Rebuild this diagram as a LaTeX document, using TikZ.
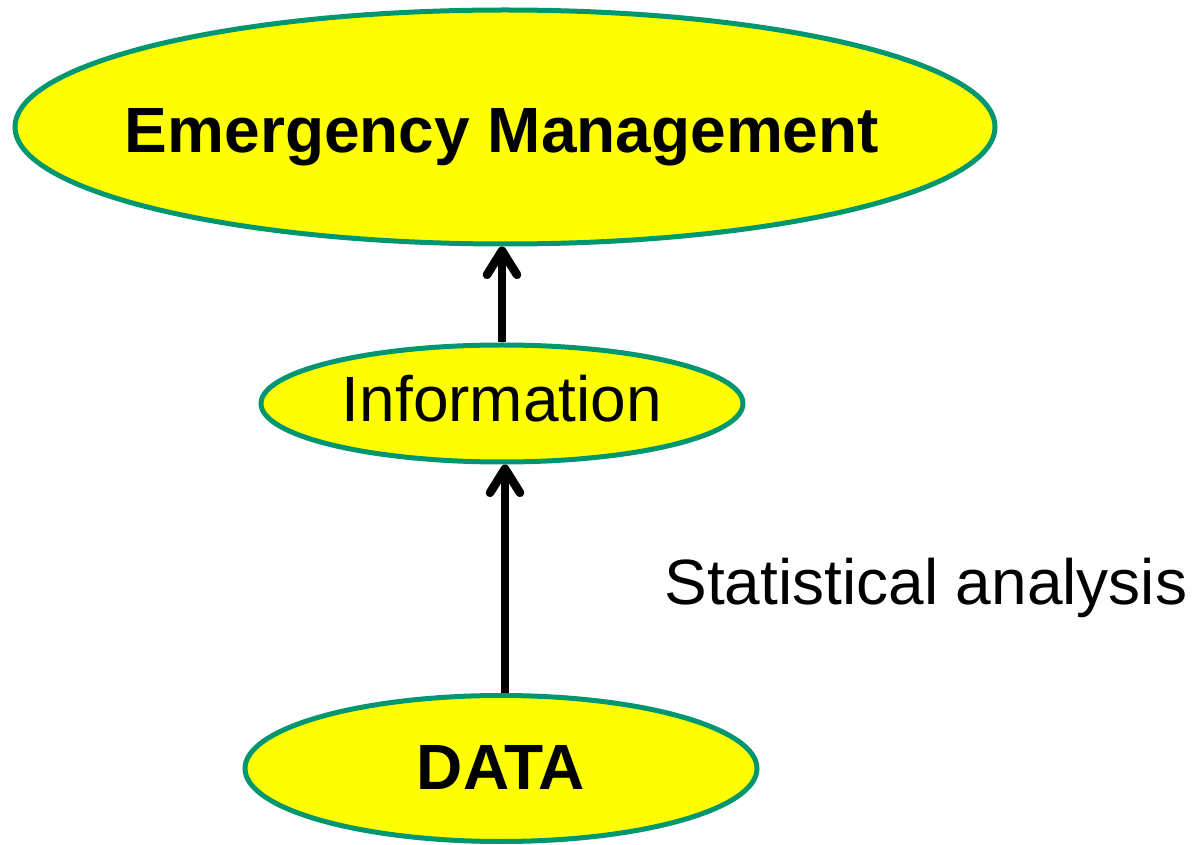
\documentclass[tikz,border=0pt]{standalone}
\usepackage{fontspec}
\setmainfont{Liberation Sans}
\usetikzlibrary{shapes.geometric,arrows.meta}
\definecolor{teal}{RGB}{0,150,112}
\definecolor{fillyel}{RGB}{255,255,0}
\tikzset{
  ell/.style={ellipse, draw=teal, fill=fillyel, line width=2.5pt, inner sep=0pt},
  lbl/.style={font=\fontsize{32}{38}\selectfont, inner sep=0pt},
  arr/.style={line width=4.3pt, -{Straight Barb[length=12pt, width=15pt, line cap=round, line join=round]}}
}
\begin{document}
\begin{tikzpicture}[x=0.5pt, y=-0.5pt]
\useasboundingbox (0,0) rectangle (1196,845);
\node[ell, minimum width=490pt, minimum height=117pt] (em) at (505,127) {};
\node[ell, minimum width=241pt, minimum height=58.5pt] (info) at (502,403.5) {};
\node[ell, minimum width=256pt, minimum height=73pt] (data) at (501,768.5) {};
\node[lbl, anchor=base, font=\fontsize{32}{38}\selectfont\bfseries] (emt) at (502,153) {Emergency Management};
\node[lbl, anchor=base, font=\fontsize{32}{38}\selectfont] (infot) at (502,422) {Information};
\node[lbl, anchor=base, font=\fontsize{32}{38}\selectfont\bfseries] (datat) at (501,790) {DATA};
\node[lbl, anchor=base west] (stat) at (664,604) {Statistical analysis};
\draw[arr] (info.north) -- (info.north |- em.south);
\draw[arr] ([xshift=2pt]data.north) -- ([xshift=2pt]data.north |- info.south);
\end{tikzpicture}
\end{document}
